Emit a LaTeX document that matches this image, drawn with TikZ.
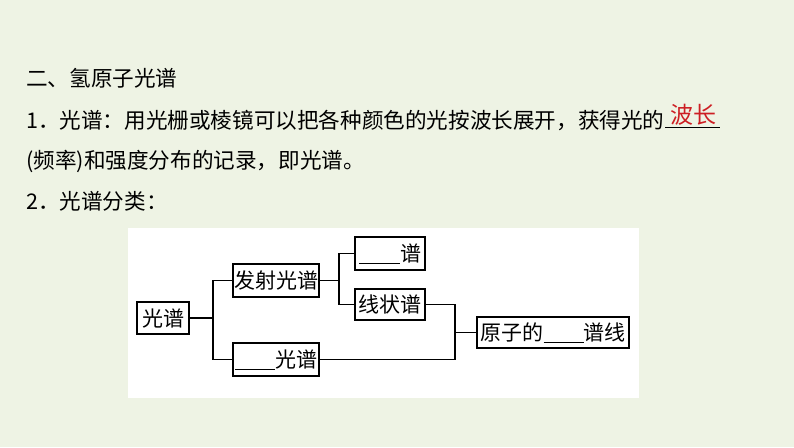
\documentclass[tikz,border=0pt]{standalone}
\usepackage{fontspec}
\newfontfamily\cjk{Noto Sans CJK SC}
\usetikzlibrary{positioning}
\definecolor{pagebg}{RGB}{238,243,228}
\definecolor{answerred}{RGB}{205,30,35}
\newcommand\blank[1]{\underline{\makebox[#1]{}}}
\tikzset{
  line/.style={line width=1.4pt},
  txt/.style={anchor=west,inner sep=0pt,font=\cjk\fontsize{21.6}{24}\selectfont},
  box/.style={draw,line width=1.4pt,inner sep=0pt,minimum height=32pt,
    font=\cjk\fontsize{21}{22}\selectfont}
}
\begin{document}
\begin{tikzpicture}[x=1pt,y=-1pt]
  \fill[pagebg] (0,0) rectangle (794,447);
  \useasboundingbox (0,0) rectangle (794,447);
  % Text lines
  \node[txt] (t0) at (26,78) {二、氢原子光谱};
  \node[txt] (t1) at (26,120) {1．光谱：用光栅或棱镜可以把各种颜色的光按波长展开，获得光的};
  \node[txt,text=answerred,anchor=center,font=\cjk\fontsize{23}{24}\selectfont] (ans) at (693,115) {波长};
  \coordinate (ul1) at (665,127);
  \coordinate (ul2) at (720,127);
  \draw[line width=1pt] (ul1) -- (ul2);
  \node[txt] (t2) at (26,161) {(频率)和强度分布的记录，即光谱。};
  \node[txt] (t3) at (26,201) {2．光谱分类：};
  % Diagram panel
  \fill[white] (128,228) rectangle (639,398);
  \node[box,minimum width=52pt] (gp) at (163,318) {光谱};
  \node[box,minimum width=86pt,minimum height=33pt] (fs) at (276,280.5) {发射光谱};
  \node[box,minimum width=86pt,minimum height=33pt] (xs) at (276,359.5) {\blank{40pt}光谱};
  \node[box,minimum width=70pt,minimum height=33pt] (lx) at (390,253.5) {\blank{41pt}谱};
  \node[box,minimum width=70pt,minimum height=31pt] (xz) at (390,304.5) {线状谱};
  \node[box,minimum width=152pt,minimum height=31pt] (yz) at (553,332.5) {原子的\blank{40pt}谱线};
  % Connectors
  \coordinate (j1) at (213,318);
  \coordinate (j2) at (339,280.5);
  \coordinate (j3) at (455,332.5);
  \draw[line] (gp.east) -- (j1);
  \draw[line] (fs.west) -| (j1) |- (xs.west);
  \draw[line] (fs.east) -- (j2);
  \draw[line] (lx.west) -| (j2) |- (xz.west);
  \draw[line] (xz.east) -| (j3) |- (xs.east);
  \draw[line] (j3) -- (yz.west);
\end{tikzpicture}
\end{document}
